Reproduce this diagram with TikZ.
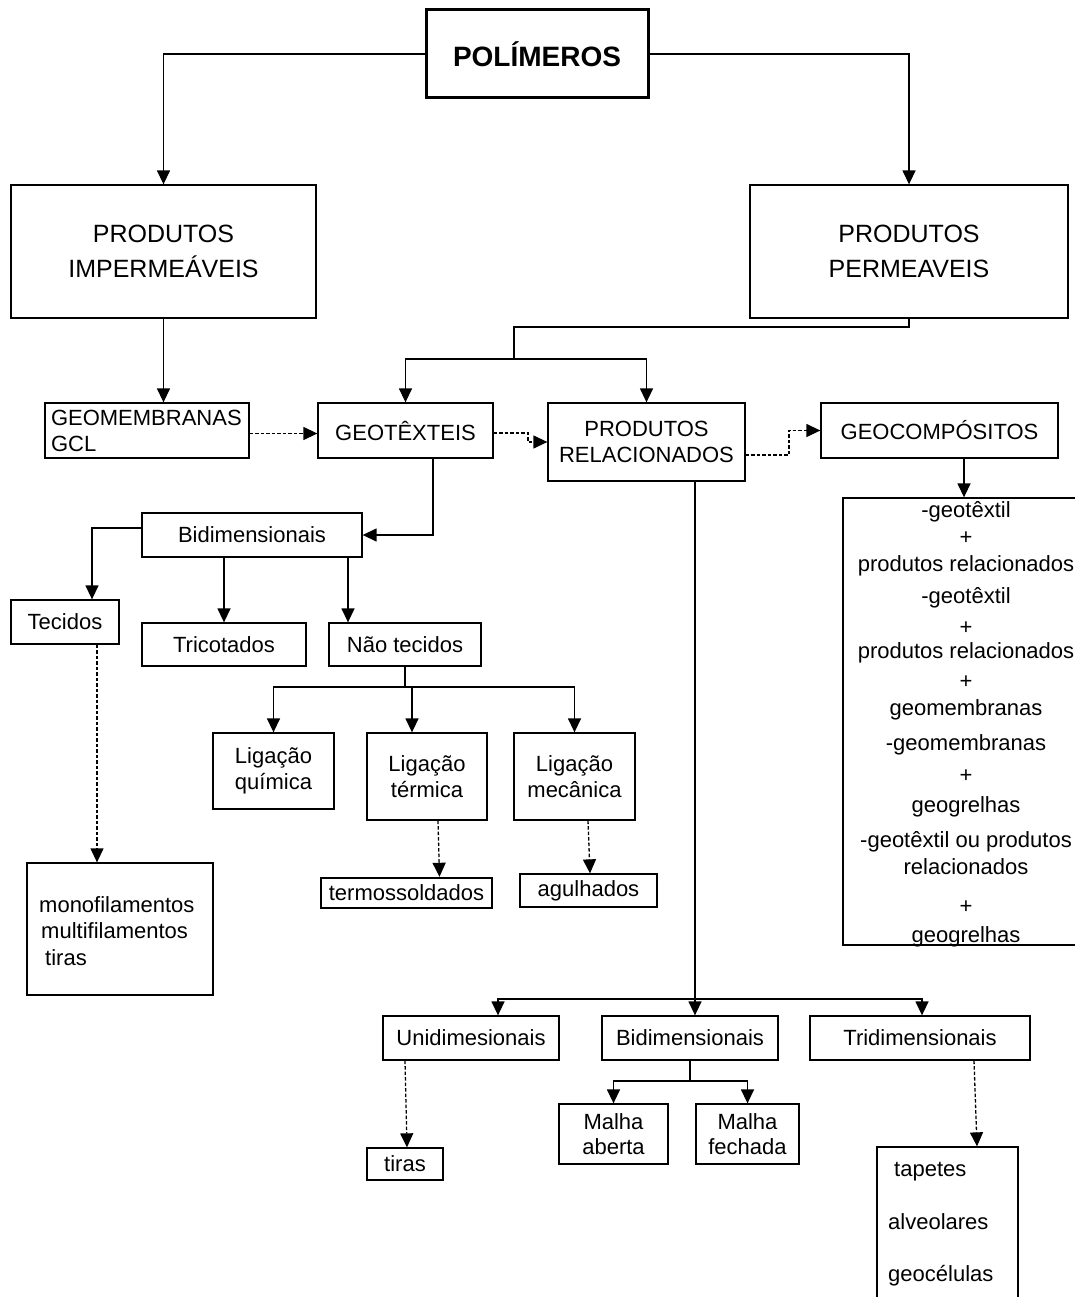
\documentclass[tikz,border=0pt]{standalone}
\usepackage{fontspec}
\setmainfont{Liberation Sans}
\usetikzlibrary{arrows.meta}
\newcommand\fa{\fontsize{22}{25.5}\selectfont}
\newcommand\fb{\fontsize{25}{35}\selectfont}
\begin{document}
\begin{tikzpicture}[x=1pt,y=-1pt,
  bx/.style={draw, line width=1.3pt, inner sep=0pt, align=center, font=\fa},
  txt/.style={inner sep=0pt, font=\fa},
  arr/.style={line width=1.4pt, -{Triangle[length=14pt,width=13pt]}},
  ln/.style={line width=1.4pt},
  darr/.style={line width=1.3pt, dash pattern=on 3.5pt off 2pt, -{Triangle[length=14pt,width=13pt]}}]
\useasboundingbox[fill=white] (0,0) rectangle (1075,1297);
% boxes
\node[bx, line width=3pt, minimum width=222pt, minimum height=88pt, font=\fontsize{28}{30}\selectfont\bfseries] (pol) at (537,54) {POLÍMEROS};
\node[bx, minimum width=305pt, minimum height=133pt, font=\fb] (imp) at (163.5,251.5) {PRODUTOS\\IMPERMEÁVEIS};
\node[bx, minimum width=318pt, minimum height=133pt, font=\fb] (perm) at (909,251.5) {PRODUTOS\\PERMEAVEIS};
\node[bx, minimum width=204pt, minimum height=55pt, inner xsep=6pt, text width=192pt, align=left, font=\fontsize{22}{26}\selectfont] (geomem) at (147,430.5) {GEOMEMBRANAS\\GCL};
\node[bx, minimum width=175pt, minimum height=55pt] (geot) at (405.5,430.5) {GEOTÊXTEIS};
\node[bx, minimum width=197pt, minimum height=78pt] (pr) at (646.5,442) {PRODUTOS\\RELACIONADOS};
\node[bx, minimum width=237pt, minimum height=55pt] (geoc) at (939.5,430.5) {GEOCOMPÓSITOS};
\node[bx, minimum width=242pt, minimum height=447pt] (big) at (964,721.5) {};
\node[bx, minimum width=220pt, minimum height=44pt] (bidim) at (252,535) {Bidimensionais};
\node[bx, minimum width=108pt, minimum height=44pt] (tec) at (65,622) {Tecidos};
\node[bx, minimum width=164pt, minimum height=43pt] (tric) at (224,644.5) {Tricotados};
\node[bx, minimum width=152pt, minimum height=43pt] (nao) at (405,644.5) {Não tecidos};
\node[bx, minimum width=121pt, minimum height=76pt] (lq) at (273.5,771) {Ligação\\química};
\node[bx, minimum width=120pt, minimum height=87pt] (lt) at (427,776.5) {Ligação\\térmica};
\node[bx, minimum width=121pt, minimum height=87pt] (lm) at (574.5,776.5) {Ligação\\mecânica};
\node[bx, line width=2.4pt, minimum width=171pt, minimum height=30pt] (termo) at (406.5,893) {termossoldados};
\node[bx, minimum width=137pt, minimum height=33pt] (agul) at (588.5,890.5) {agulhados};
\node[bx, minimum width=186pt, minimum height=132pt] (mono) at (120,929) {};
\node[txt, anchor=west, align=left, font=\fontsize{22}{26.5}\selectfont] (monot) at (39,931) {monofilamentos\\\hspace*{2pt}multifilamentos\\\hspace*{6pt}tiras};
\node[bx, minimum width=176pt, minimum height=44pt] (uni) at (471,1038) {Unidimesionais};
\node[bx, minimum width=176pt, minimum height=44pt] (bid2) at (690,1038) {Bidimensionais};
\node[bx, minimum width=220pt, minimum height=44pt] (tri) at (920,1038) {Tridimensionais};
\node[bx, minimum width=76pt, minimum height=32pt] (tiras) at (405,1164) {tiras};
\node[bx, minimum width=109pt, minimum height=60pt] (ma) at (613.5,1134) {Malha\\aberta};
\node[bx, minimum width=103pt, minimum height=60pt] (mf) at (747.5,1134) {Malha\\fechada};
\node[bx, minimum width=141pt, minimum height=163pt] (tap) at (947.5,1228.5) {};
\node[txt, anchor=west] (tap1) at (894,1172) {tapetes};
\node[txt, anchor=west] (tap2) at (888,1222) {alveolares};
\node[txt, anchor=west] (tap3) at (888,1276) {geocélulas};
% big box texts
\node[txt] (c1) at (966,512) {-geotêxtil};
\node[txt] (c2) at (966,538) {+};
\node[txt] (c3) at (966,566) {produtos relacionados};
\node[txt] (c4) at (966,598) {-geotêxtil};
\node[txt] (c5) at (966,628) {+};
\node[txt] (c6) at (966,653) {produtos relacionados};
\node[txt] (c7) at (966,682) {+};
\node[txt] (c8) at (966,710) {geomembranas};
\node[txt] (c9) at (966,745) {-geomembranas};
\node[txt] (c10) at (966,776) {+};
\node[txt] (c11) at (966,807) {geogrelhas};
\node[txt] (c12) at (966,842) {-geotêxtil ou produtos};
\node[txt] (c13) at (966,867) {relacionados};
\node[txt] (c14) at (966,907) {+};
\node[txt] (c15) at (966,937) {geogrelhas};
% coordinates
\coordinate (pa) at (514,327);
\coordinate (pb) at (514,359);
\coordinate (g1) at (528,442);
\coordinate (g2) at (789,455);
\coordinate (n1) at (405,687);
\coordinate (p1) at (695,999);
\coordinate (b1) at (690,1081);
% connectors
\draw[arr] (pol.west) -| (imp.north);
\draw[arr] (pol.east) -| (perm.north);
\draw[arr] (imp.south) -- (imp.south |- geomem.north);
\draw[ln] (perm.south) |- (pa) -- (pb);
\draw[arr] (pb) -| (geot.north);
\draw[arr] (pb) -| (pr.north);
\draw[darr] ([yshift=-3pt]geomem.east) -- ([yshift=-3pt]geot.west);
\draw[darr] ([yshift=-2.5pt]geot.east) -| (g1) -- (pr.west);
\draw[darr] ([yshift=-13pt]pr.east) -- (g2) |- (geoc.west);
\draw[arr] (big.north |- geoc.south) -- (big.north);
\draw[arr] ([xshift=27.5pt]geot.south) |- (bidim.east);
\draw[arr] ([yshift=7pt]bidim.west) -| ([xshift=27pt]tec.north);
\draw[arr] (bidim.south -| tric.north) -- (tric.north);
\draw[arr] ([xshift=96pt]bidim.south) -- ([xshift=96pt]bidim.south |- nao.north);
\draw[ln] (nao.south) -- (n1);
\draw[arr] (n1) -| (lq.north);
\draw[arr] (n1) -| ([xshift=-15pt]lt.north);
\draw[arr] (n1) -| (lm.north);
\draw[darr] ([xshift=11pt]lt.south) -- ([xshift=33pt]termo.north);
\draw[darr] ([xshift=13.5pt]lm.south) -- ([xshift=1.5pt]agul.north);
\draw[darr] ([xshift=32pt]tec.south) -- ([xshift=-23pt]mono.north);
\draw[ln] ([xshift=48.5pt]pr.south) -- (p1);
\draw[arr] (p1) -| ([xshift=27pt]uni.north);
\draw[arr] (p1) -- ([xshift=5pt]bid2.north);
\draw[arr] (p1) -| ([xshift=2pt]tri.north);
\draw[darr] ([xshift=-66pt]uni.south) -- ([xshift=2pt]tiras.north);
\draw[ln] (bid2.south) -- (b1);
\draw[arr] (b1) -| (ma.north);
\draw[arr] (b1) -| (mf.north);
\draw[darr] ([xshift=54pt]tri.south) -- ([xshift=29.5pt]tap.north);
\end{tikzpicture}
\end{document}
